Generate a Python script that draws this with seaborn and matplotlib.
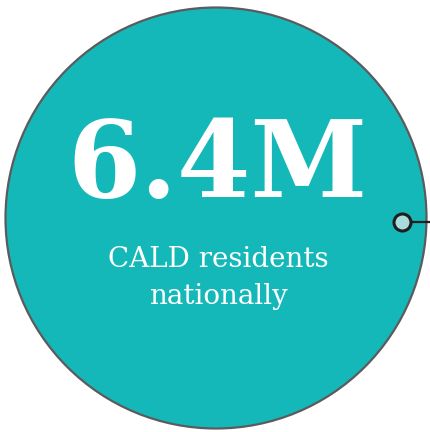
import matplotlib
matplotlib.use("Agg")
import matplotlib.pyplot as plt
import pandas as pd
import seaborn as sns

# stat shown in the bubble
stat_value = ["6.4M"]
stat_label = ["CALD residents", "nationally"]

# connector leaving the bubble (pixel space, y down)
connector_x = [402, 432]
connector_y = [222, 222]

sns.set_theme(style="white")
plt.rcParams["font.family"] = ["DejaVu Serif"]

fig = plt.figure(figsize=(4.30, 4.32), dpi=100)
ax = fig.add_axes([0, 0, 1, 1])

bubble = plt.Circle((216, 218), 210.5, facecolor="#15b8b8", edgecolor="#5b5b5d", linewidth=1.6, zorder=1)
ax.add_patch(bubble)

conn = pd.DataFrame({"x": connector_x, "y": connector_y})
sns.lineplot(data=conn, x="x", y="y", color="#1e1e1e", linewidth=1.6, ax=ax, zorder=2)
sns.scatterplot(data=conn.iloc[:1], x="x", y="y", s=150, color="#a9dcdc",
                edgecolor="#1e1e1e", linewidth=2.2, ax=ax, zorder=3)
ax.set_xlim(0, 430)
ax.set_ylim(432, 0)
ax.set_aspect("equal")
ax.axis("off")

ax.text(217, 197, stat_value[0], color="white", fontsize=76, fontweight="bold",
        ha="center", va="baseline", zorder=4)
for i, line in enumerate(stat_label):
    ax.text(218, 267 + 37 * i, line, color="white", fontsize=20,
            ha="center", va="baseline", zorder=4)

fig.savefig("out.png", dpi=100)
